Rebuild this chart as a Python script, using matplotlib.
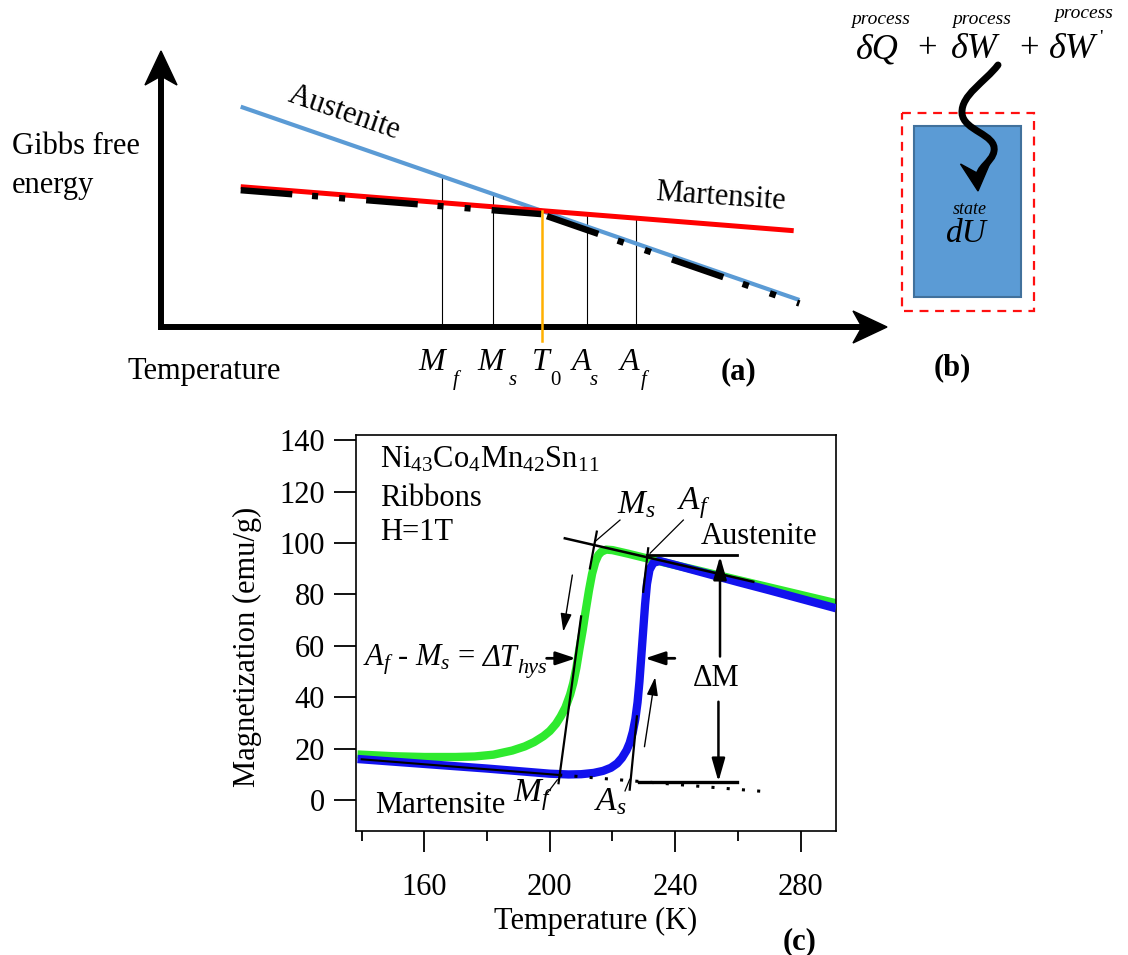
import matplotlib
matplotlib.use('Agg')
import matplotlib.pyplot as plt
import numpy as np
from matplotlib.patches import Polygon, Rectangle, PathPatch
from matplotlib.path import Path
from matplotlib.ticker import FixedLocator

plt.rcParams['font.family'] = ['Liberation Serif', 'DejaVu Serif']
plt.rcParams['mathtext.fontset'] = 'custom'
plt.rcParams['mathtext.rm'] = 'Liberation Serif'
plt.rcParams['mathtext.it'] = 'Liberation Serif:italic'
plt.rcParams['mathtext.bf'] = 'Liberation Serif:bold'

# ---------------- panel (c) data ----------------
T_cool = [140, 150, 160, 170, 176, 182, 188, 192, 195, 198, 200, 202, 203.5, 205, 206.5,
          207.5, 208.5, 209.5, 210.5, 211.5, 212.5, 213.5, 214.5, 215.5, 216.5, 218, 220,
          225, 230, 240, 250, 260, 270, 280, 290]
M_cool = [17.6, 17.0, 16.7, 16.7, 16.9, 17.6, 19.2, 20.8, 22.5, 24.8, 26.8, 29.6, 32.5, 36.0, 41.0,
          45.5, 51.5, 59.0, 66.0, 74.0, 81.5, 88.0, 92.5, 95.3, 96.6, 97.4, 97.2,
          95.8, 94.3, 91.4, 88.5, 85.6, 82.7, 79.8, 76.9]
T_heat = [140, 150, 160, 170, 180, 190, 200, 206, 210, 214, 217, 219.5, 221.5, 223, 224.5,
          225.5, 226.5, 227.3, 228, 228.6, 229.2, 229.8, 230.4, 231, 231.8, 233, 235,
          240, 250, 260, 270, 280, 290]
M_heat = [15.8, 14.9, 14.0, 13.1, 12.2, 11.2, 10.2, 9.9, 10.0, 10.5, 11.3, 12.5, 14.2, 16.3, 19.3,
          22.2, 26.5, 31.5, 38.0, 46.0, 56.0, 66.0, 76.0, 84.0, 89.5, 92.2, 93.0,
          91.4, 88.1, 84.8, 81.6, 78.3, 75.0]
x_major = [160, 200, 240, 280]
x_minor = [140, 180, 220, 260]
y_ticks = [0, 20, 40, 60, 80, 100, 120, 140]

# construction lines of panel (c): (T, M) pairs
mart_base_T = [140, 203];   mart_base_M = [15.8, 9.7]
mart_dot_T = [203, 268];    mart_dot_M = [9.7, 3.3]
aust_tan_T = [204.8, 264.9]; aust_tan_M = [101.8, 84.9]
af_level_T = [231, 259.8];  af_level_M = [95.3, 95.3]
low_level_T = [228.4, 259.8]; low_level_M = [6.8, 6.8]
mf_tan_T = [202.8, 210.0];  mf_tan_M = [6.5, 71.4]
ms_tick_T = [212.8, 215.0]; ms_tick_M = [90.1, 104.4]
af_tick_T = [229.8, 231.4]; af_tick_M = [81.0, 97.9]
as_tick_T = [225.5, 227.8]; as_tick_M = [4.0, 32.5]
lead_ms_T = [222.4, 214.4]; lead_ms_M = [108.9, 100.5]
lead_af_T = [242.6, 232.0]; lead_af_M = [108.9, 96.0]
lead_mf_T = [202.4, 198.8]; lead_mf_M = [7.8, 2.0]
lead_as_T = [225.5, 224.0]; lead_as_M = [8.0, 3.5]

# ---------------- panel (a) schematic (pixel units) ----------------
aust_x = [240.7, 799.4];  aust_y = [106.7, 300.0]
mart_x = [240.7, 793.7];  mart_y = [186.7, 230.7]
T0_x = 541.5
mark_x = [442.4, 493.4, 587.4, 636.1]          # Mf, Ms, As, Af
mark_on = ['aust', 'aust', 'mart', 'mart']
main_txt = ['M', 'M', 'T', 'A', 'A']
main_x = [432, 491, 541, 582, 630]
sub_txt = ['f', 's', '0', 's', 'f']
sub_x = [456, 513, 555, 594, 644]

# ---------------- figure ----------------
fig = plt.figure(figsize=(11.28, 9.55), dpi=100)
ax0 = fig.add_axes([0, 0, 1, 1])
ax0.set_xlim(0, 1128)
ax0.set_ylim(955, 0)
ax0.axis('off')

FS = 22

# axes arrows of (a)
ax0.plot([161, 161], [330, 70], color='k', lw=4.3, solid_capstyle='butt', zorder=3)
ax0.plot([158, 868], [327, 327], color='k', lw=4.3, solid_capstyle='butt', zorder=3)
ax0.add_patch(Polygon([(161, 51), (145, 85), (161, 76), (177, 85)], closed=True, fc='k', ec='k', lw=1, zorder=4))
ax0.add_patch(Polygon([(887, 327), (853, 311), (862, 327), (853, 343)], closed=True, fc='k', ec='k', lw=1, zorder=4))

# phase lines
ax0.plot(aust_x, aust_y, color='#5B9BD5', lw=3.0, solid_capstyle='butt', zorder=2)
ax0.plot(mart_x, mart_y, color='#FF0000', lw=3.6, solid_capstyle='butt', zorder=2)

# vertical marker lines
for xm, on in zip(mark_x, mark_on):
    ytop = np.interp(xm, aust_x, aust_y) if on == 'aust' else np.interp(xm, mart_x, mart_y)
    ax0.plot([xm, xm], [324, ytop], color='k', lw=0.8, zorder=1)
y0 = np.interp(T0_x, aust_x, aust_y)
ax0.plot([T0_x, T0_x], [y0, 341], color='#FFB000', lw=1.8, zorder=5)

# black dash-dot lower envelope
off = 3.5
xa = [mart_x[0], T0_x]
ya = [np.interp(v, mart_x, mart_y) + off for v in xa]
ax0.plot(xa, ya, color='k', lw=4.6, dashes=(8.1, 3.1, 0.95, 3.3, 0.95, 3.3),
         dash_capstyle='butt', zorder=4)
xb = [T0_x + 5.5, aust_x[1]]
yb = [np.interp(v, aust_x, aust_y) + off for v in xb]
ax0.plot(xb, yb, color='k', lw=4.6, dashes=(8.5, 3.2, 1.0, 3.5, 1.0, 3.5),
         dash_capstyle='butt', zorder=4)

# texts of (a)
ax0.text(12, 147, 'Gibbs free', fontsize=FS, ha='left', va='center')
ax0.text(12, 186, 'energy', fontsize=FS, ha='left', va='center')
ax0.text(128, 371, 'Temperature', fontsize=FS, ha='left', va='center')
ax0.text(344, 113, 'Austenite', fontsize=FS, ha='center', va='center', rotation=-19.1, rotation_mode='anchor')
ax0.text(721, 197, 'Martensite', fontsize=FS, ha='center', va='center', rotation=-4, rotation_mode='anchor')
for xm_, t, xs_, s in zip(main_x, main_txt, sub_x, sub_txt):
    ax0.text(xm_, 362, t, fontsize=FS + 1, style='italic', ha='center', va='center')
    ax0.text(xs_, 380, s, fontsize=15, style='normal' if s == '0' else 'italic', ha='center', va='center')
ax0.text(738, 372, '(a)', fontsize=FS, fontweight='bold', ha='center', va='center')

# ---------------- panel (b) ----------------
ax0.add_patch(Rectangle((901.7, 112.7), 132.3, 198, fill=False, ec='#FF1010', lw=1.6,
                        ls=(0, (4, 3)), zorder=2))
ax0.add_patch(Rectangle((914, 126), 107, 171, fc='#5B9BD5', ec='#41719C', lw=1.5, zorder=3))
for xc, yc in [(881, 20), (982, 20), (1084, 14)]:
    ax0.text(xc, yc, 'process', fontsize=14, style='italic', ha='center', va='center')
ax0.text(877, 50, 'δQ', fontsize=26, style='italic', ha='center', va='center')
ax0.text(927, 50, '+', fontsize=25, ha='center', va='center')
ax0.text(974, 50, 'δW', fontsize=26, style='italic', ha='center', va='center')
ax0.text(1029, 50, '+', fontsize=25, ha='center', va='center')
ax0.text(1072, 50, 'δW', fontsize=26, style='italic', ha='center', va='center')
ax0.text(1101, 38, "'", fontsize=14, ha='center', va='center')
ax0.text(970, 209, 'state', fontsize=13, style='italic', ha='center', va='center', zorder=6)
ax0.text(966, 234, 'dU', fontsize=24, style='italic', ha='center', va='center', zorder=6)
ax0.text(952, 368, '(b)', fontsize=FS, fontweight='bold', ha='center', va='center')

verts = [(998, 65), (985, 82), (961, 95), (962, 113),
         (963, 131), (997, 134), (994, 151),
         (992, 163), (978, 166), (978, 181)]
codes = [Path.MOVETO] + [Path.CURVE4] * 9
ax0.add_patch(PathPatch(Path(verts, codes), fill=False, ec='k', lw=5, capstyle='round', zorder=7))
ax0.add_patch(Polygon([(978, 191), (960.5, 164), (977, 173), (990, 163)], closed=True,
                      fc='k', ec='k', lw=1, zorder=8))

# (c) label
ax0.text(800, 942, '(c)', fontsize=FS, fontweight='bold', ha='center', va='center')

# ---------------- panel (c) ----------------
L, R, TOP, BOT = 355.7, 835.7, 435, 831
ax = fig.add_axes([L / 1128, (955 - BOT) / 955, (R - L) / 1128, (BOT - TOP) / 955])
ax.set_xlim(138.1, 291.2)
ax.set_ylim(-12.1, 142.0)
ax.xaxis.set_major_locator(FixedLocator(x_major))
ax.xaxis.set_minor_locator(FixedLocator(x_minor))
ax.yaxis.set_major_locator(FixedLocator(y_ticks))
ax.tick_params(axis='x', which='major', direction='out', length=15, width=1.3, pad=15, labelsize=FS)
ax.tick_params(axis='x', which='minor', direction='out', length=7.5, width=1.3)
ax.tick_params(axis='y', which='major', direction='out', length=16, width=1.3, pad=6, labelsize=FS)
for s in ax.spines.values():
    s.set_linewidth(1.2)

ax.plot(T_cool, M_cool, color='#2EEA2E', lw=6, solid_joinstyle='round', zorder=2)
ax.plot(T_heat, M_heat, color='#1212EE', lw=6, solid_joinstyle='round', zorder=3)

ax.plot(mart_base_T, mart_base_M, color='k', lw=1.5, zorder=4)
ax.plot(mart_dot_T, mart_dot_M, color='k', lw=2.2, dashes=(1, 4), zorder=4)
ax.plot(aust_tan_T, aust_tan_M, color='k', lw=1.8, zorder=4)
ax.plot(af_level_T, af_level_M, color='k', lw=2.0, zorder=4)
ax.plot(low_level_T, low_level_M, color='k', lw=2.4, zorder=4)
for tt, mm in [(mf_tan_T, mf_tan_M), (ms_tick_T, ms_tick_M), (af_tick_T, af_tick_M), (as_tick_T, as_tick_M)]:
    ax.plot(tt, mm, color='k', lw=1.6, zorder=5)
for tt, mm in [(lead_ms_T, lead_ms_M), (lead_af_T, lead_af_M), (lead_mf_T, lead_mf_M), (lead_as_T, lead_as_M)]:
    ax.plot(tt, mm, color='k', lw=0.9, zorder=5)


def arrow(tail, tip, lw=1.0, hl=0.55, hw=0.17):
    ax.annotate('', xy=tip, xytext=tail,
                arrowprops=dict(arrowstyle=f'-|>,head_length={hl},head_width={hw}', lw=lw, color='k',
                                shrinkA=0, shrinkB=0, mutation_scale=20), zorder=6)


arrow((207.2, 87.5), (204.3, 65.5), lw=1.0)
arrow((230.2, 20.7), (233.6, 47.7), lw=1.0)
arrow((199.0, 55.1), (208.3, 55.1), lw=2.0, hl=0.6, hw=0.2)
arrow((239.9, 55.1), (230.4, 55.1), lw=2.0, hl=0.6, hw=0.2)
arrow((254.3, 55.8), (254.3, 94.8), lw=1.8, hl=0.7, hw=0.2)
arrow((253.8, 38.2), (253.8, 7.1), lw=1.8, hl=0.7, hw=0.2)

ax.text(146, 132.5, r'Ni$_{43}$Co$_{4}$Mn$_{42}$Sn$_{11}$', fontsize=FS, ha='left', va='center')
ax.text(146, 117.3, 'Ribbons', fontsize=FS, ha='left', va='center')
ax.text(146, 104.2, 'H=1T', fontsize=FS, ha='left', va='center')
ax.text(144.2, -2.0, 'Martensite', fontsize=FS, ha='left', va='center')
ax.text(248.3, 102.6, 'Austenite', fontsize=FS, ha='left', va='center')
ax.text(253.0, 47.4, 'ΔM', fontsize=FS, ha='center', va='center')
ax.text(227.5, 115.0, r'$M_s$', fontsize=FS + 2, ha='center', va='center')
ax.text(246.0, 115.6, r'$A_f$', fontsize=FS + 2, ha='center', va='center')
ax.text(194.5, 2.0, r'$M_f$', fontsize=FS + 2, ha='center', va='center')
ax.text(219.3, -0.6, r'$A_s$', fontsize=FS + 2, ha='center', va='center')

# "Af - Ms = ΔT_hys" built right-to-left so that the Δ can be italic
yb_hys = 52.2
t_h = ax.text(199.0, yb_hys - 3.0, 'hys', fontsize=16, style='italic', ha='right', va='baseline')
t_d = ax.annotate('ΔT', xy=(0, yb_hys), xycoords=(t_h, 'data'), fontsize=FS, style='italic',
                  ha='right', va='baseline')
ax.annotate(r'$A_f$ - $M_s$ =', xy=(0, yb_hys), xycoords=(t_d, 'data'), xytext=(-5, 0),
            textcoords='offset points', fontsize=FS, ha='right', va='baseline')

ax.set_xlabel('Temperature (K)', fontsize=FS, va='center')
ax.xaxis.set_label_coords(0.5, (BOT - 921) / (BOT - TOP))
ax.set_ylabel('Magnetization (emu/g)', fontsize=FS, va='center')
ax.yaxis.set_label_coords((247 - L) / (R - L), 0.465)

fig.savefig('out.png', dpi=100)
